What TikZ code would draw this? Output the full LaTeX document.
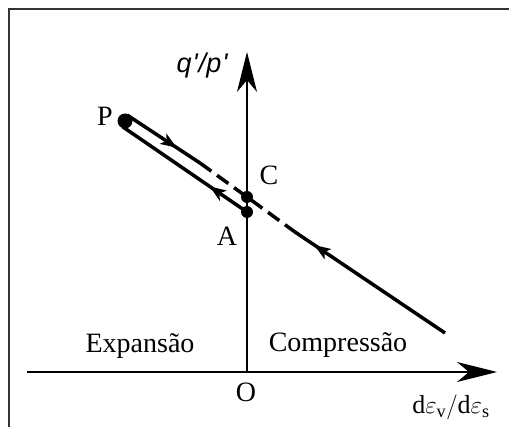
\documentclass[tikz,border=0pt]{standalone}
\usepackage{fontspec}
\setmainfont{Liberation Serif}
\setsansfont{Liberation Sans}
\usepackage{tikz}
\usetikzlibrary{arrows.meta,decorations.markings}

\tikzset{
  axis/.style={line width=2pt,-{Stealth[length=40pt,width=20pt,inset=12pt]}},
  path/.style={line width=3.5pt},
  midarr/.style={postaction={decorate,decoration={markings,
      mark=at position #1 with {\arrow{Stealth[length=16pt,width=12pt,inset=4pt]}}}}},
  pt/.style={font=\fontsize{28}{30}\selectfont,inner sep=0pt},
  region/.style={font=\fontsize{28}{30}\selectfont,inner sep=0pt,anchor=base}
}

\begin{document}
\begin{tikzpicture}[x=1pt, y=-1pt]
    \useasboundingbox (0,0) rectangle (509,427);

    % Frame
    \draw[line width=2pt,black!80] (9,427) -- (9,9) -- (509,9);

    % Axes
    \coordinate (O) at (247,372);
    \coordinate (xs) at (27,372);
    \coordinate (xe) at (497,372);
    \coordinate (ye) at (247,52);
    \draw[axis] (xs) -- (xe);
    \draw[axis] (O) -- (ye);
    \node[pt] at (246,392) (Olab) {O};
    \node[font=\fontsize{27}{29}\selectfont\sffamily\itshape,inner sep=0pt,anchor=base] at (202,73) (ylab) {q\kern1pt\textquotesingle\kern1pt/p\kern1pt\textquotesingle};
    \node[font=\fontsize{26}{28}\selectfont,inner sep=0pt,anchor=base] at (451,414) (xlab) {$\mathrm{d}\varepsilon_{\mathrm{v}}/\mathrm{d}\varepsilon_{\mathrm{s}}$};

    % Points
    \coordinate (C) at (247,197);
    \coordinate (A) at (247,212);
    \coordinate (P) at (125,121);
    \coordinate (Pu) at (127,115);
    \coordinate (Pl) at (123,127);
    \coordinate (D1) at (200,163);
    \coordinate (D2) at (295,232);
    \coordinate (E) at (445,333);

    % Loop P - C - A
    \draw[path,midarr=0.68] (Pu) -- (D1);
    \draw[path,dash pattern=on 14pt off 7pt] (D1) -- (C) -- (D2);
    \draw[path,midarr=0.87] (E) -- (D2);
    \draw[path,midarr=0.30] (A) -- (Pl);
    \fill (P) circle (7.5);
    \fill (C) circle (6);
    \fill (A) circle (6);

    % Labels
    \node[pt] at (105,116) (Plab) {P};
    \node[pt] at (269,175) (Clab) {C};
    \node[pt] at (227,236) (Alab) {A};
    \node[region] at (140,353) (exp) {Expansão};
    \node[region] at (338,352) (comp) {Compressão};

\end{tikzpicture}
\end{document}
